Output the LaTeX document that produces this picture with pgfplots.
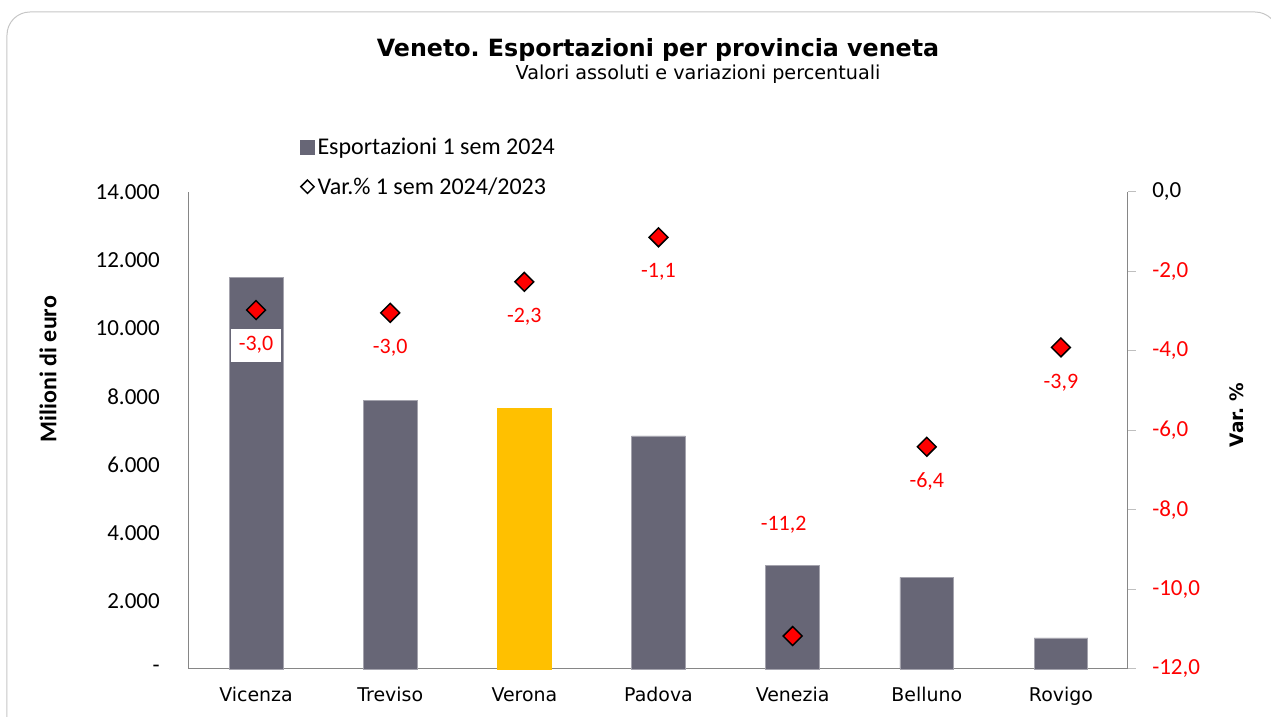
\documentclass[border=0pt]{standalone}
\usepackage{pgfplots}
\pgfplotsset{compat=1.18}
\usepackage{pgfplotstable}
\usepackage{fontspec}
\setmainfont{Carlito}
\newfontfamily\carlito{Carlito}
\newfontfamily\dejavu{DejaVu Sans}
\definecolor{barcol}{RGB}{103,102,118}
\definecolor{verona}{RGB}{255,192,0}
\definecolor{axcol}{RGB}{134,134,134}
\frenchspacing

\pgfplotstableread{
x y
0 11497
1 7895
3 6839
4 3052
5 2691
6 910
}\bars
\pgfplotstableread{
x y
2 7660
}\barv
\pgfplotstableread{
x y lab dy dx
0 -2.97 -3,0 -26.25 0
1 -3.04 -3,0 -26.25 0
2 -2.26 -2,3 -26.25 0
3 -1.14 -1,1 -26.25 0
4 -11.17 -11,2 83.25 -6.75
5 -6.41 -6,4 -26.25 0
6 -3.91 -3,9 -26.25 0
}\var

\begin{document}
\begin{tikzpicture}
\useasboundingbox (-141.75pt,-36pt) rectangle (811.5pt,501.75pt);
\draw[gray!45, line width=0.75pt, rounded corners=17.25pt] (-136.5pt,-60pt) rectangle (816.75pt,492.75pt);
\begin{axis}[at={(0pt,0pt)}, anchor=south west, width=704.25pt, height=357.75pt, scale only axis,
 xmin=-0.5, xmax=6.5, ymin=0, ymax=14000,
 axis x line*=bottom, axis y line*=left, axis line style={axcol, line width=0.75pt, -},
 xtick={0,...,6}, xticklabels={Vicenza,Treviso,Verona,Padova,Venezia,Belluno,Rovigo},
 ytick={0,2000,...,14000}, yticklabels={-,2.000,4.000,6.000,8.000,10.000,12.000,14.000},
 scaled y ticks=false,
 major tick length=0pt, tick style={draw=none},
 yticklabel style={font=\carlito\fontsize{17.25}{17.25}\selectfont, inner sep=0pt, anchor=east, xshift=-21.75pt},
 xticklabel style={font=\dejavu\fontsize{14.2}{14.2}\selectfont, inner sep=0pt, anchor=base, yshift=-24.5pt},
 clip=false,
 legend style={at={(rel axis cs:0.118,1.119)}, anchor=north west, draw=none, fill=none, inner sep=0pt,
   font=\carlito\fontsize{18}{18}\selectfont, row sep=11.5pt, cells={anchor=west}},
]
\addlegendimage{legend image code/.code={\fill[barcol] (0pt,-5.25pt) rectangle (10.5pt,5.25pt);}}
\addlegendentry{Esportazioni 1 sem 2024}
\addlegendimage{legend image code/.code={\draw[black, line width=1.1pt, fill=white] (5.25pt,5pt) -- (10.25pt,0pt) -- (5.25pt,-5pt) -- (0.25pt,0pt) -- cycle;}}
\addlegendentry{Var.\% 1 sem 2024/2023}
\addplot[ybar, bar width=40.3pt, bar shift=0pt, fill=barcol, draw=barcol!60!white, line width=0.5pt, forget plot] table[x=x,y=y]{\bars};
\addplot[ybar, bar width=40.3pt, bar shift=0pt, fill=verona, draw=verona, line width=0.5pt, forget plot] table[x=x,y=y]{\barv};
\node[font=\dejavu\bfseries\fontsize{17.8}{17.8}\selectfont, anchor=base] at (rel axis cs:0.4995,1.2851) {Veneto. Esportazioni per provincia veneta};
\node[font=\dejavu\fontsize{14.4}{14.4}\selectfont, anchor=base] at (rel axis cs:0.5421,1.2348) {Valori assoluti e variazioni percentuali};
\node[font=\carlito\bfseries\fontsize{18}{18}\selectfont, rotate=90] at (rel axis cs:-0.1502,0.6289) {Milioni di euro};
\node[font=\dejavu\bfseries\fontsize{13.9}{13.9}\selectfont, rotate=90] at (rel axis cs:1.1161,0.5325) {Var. \%};
\end{axis}
\begin{axis}[at={(0pt,0pt)}, anchor=south west, width=704.25pt, height=357.75pt, scale only axis,
 xmin=-0.5, xmax=6.5, ymin=-12, ymax=0,
 axis x line=none, axis y line*=right, axis line style={axcol, line width=0.75pt, -},
 ytick={-12,-10,...,0},
 yticklabels={{\color{red}-12,0},{\color{red}-10,0},{\color{red}-8,0},{\color{red}-6,0},{\color{red}-4,0},{\color{red}-2,0},{0,0}},
 tick align=outside, major tick length=6pt, ytick style={gray!50, line width=0.75pt},
 yticklabel style={font=\carlito\fontsize{17.25}{17.25}\selectfont, inner sep=0pt, anchor=west, xshift=12pt},
 clip=false,
 nodes near coords, point meta=explicit symbolic,
 visualization depends on={\thisrow{dy}\as\dy},
 visualization depends on={\thisrow{dx}\as\dx},
 every node near coord/.append style={anchor=center, yshift=\dy*1pt, xshift=\dx*1pt, text=red, fill=white,
   inner xsep=6pt, inner ysep=6pt, font=\carlito\fontsize{16.5}{16.5}\selectfont},
]
\addplot[only marks, mark=square*, mark size=5pt, mark options={rotate=45, fill=red, draw=black, line width=1.1pt}] table[x=x, y=y, meta=lab]{\var};
\end{axis}
\end{tikzpicture}
\end{document}
